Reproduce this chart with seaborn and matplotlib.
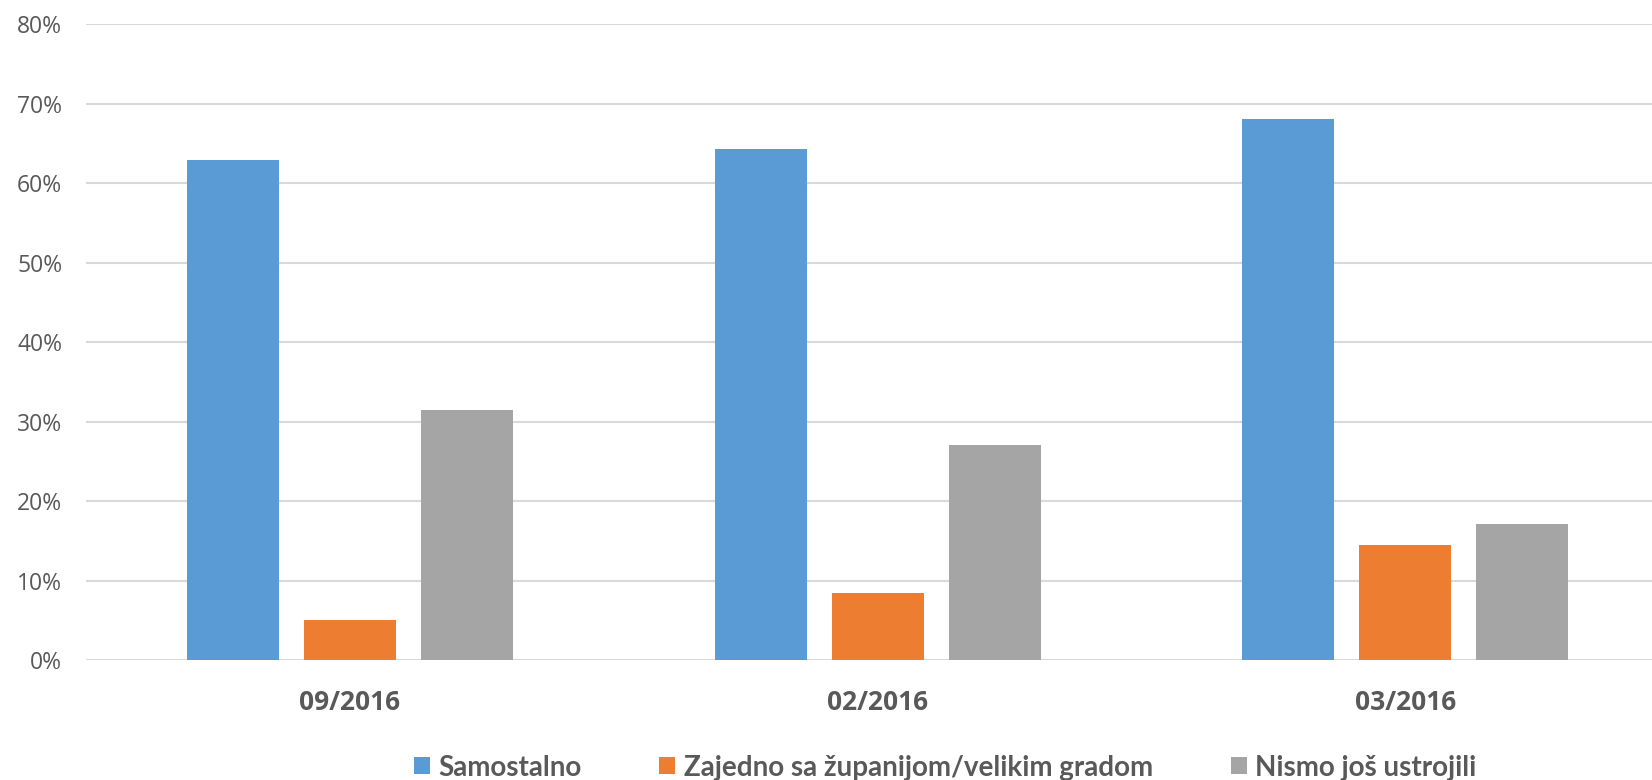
import pandas as pd
import matplotlib.pyplot as plt
import seaborn as sns
from matplotlib.ticker import PercentFormatter

# podaci očitani s grafa
razdoblja = ['09/2016', '02/2016', '03/2016']
samostalno = [0.629, 0.643, 0.68]
zajedno = [0.05, 0.084, 0.145]
nismo = [0.314, 0.27, 0.171]
serije = ['Samostalno', 'Zajedno sa županijom/velikim gradom', 'Nismo još ustrojili']
boje = ['#5B9BD5', '#ED7D31', '#A5A5A5']

df = pd.DataFrame({
    'Razdoblje': razdoblja * 3,
    'Udio': samostalno + zajedno + nismo,
    'Serija': [s for s in serije for _ in razdoblja],
})

sns.set_style('white')
plt.rcParams['font.family'] = ['Open Sans', 'DejaVu Sans']

fig = plt.figure(figsize=(16.52, 7.8), dpi=100)
# desni rub grafa je odrezan kao na originalu
ax = fig.add_axes([0.052, 0.1538, 0.9585, 0.8154])

sns.barplot(data=df, x='Razdoblje', y='Udio', hue='Serija', order=razdoblja,
            hue_order=serije, palette=boje, saturation=1, width=0.665, gap=0.214,
            linewidth=0, ax=ax, zorder=3)

# mreža i osi
ax.set_ylim(0, 0.8)
ax.set_xlim(-0.5, 2.5)
ax.set_yticks([i / 10 for i in range(9)])
ax.yaxis.set_major_formatter(PercentFormatter(1.0, decimals=0))
ax.grid(True, axis='y', color='#d9d9d9', linewidth=1.5, zorder=0)
ax.grid(False, axis='x')
for s in ax.spines.values():
    s.set_visible(False)
ax.tick_params(length=0)
ax.tick_params(axis='y', labelsize=16.5, labelcolor='#595959', pad=17)
ax.tick_params(axis='x', labelsize=19, labelcolor='#595959', pad=21)
for t in ax.get_xticklabels():
    t.set_fontweight('bold')
ax.set_xlabel('')
ax.set_ylabel('')

# legenda ispod grafa
handles, labels = ax.get_legend_handles_labels()
ax.get_legend().remove()
fig.legend(handles, labels, loc='center', bbox_to_anchor=(0.572, 0.016), ncol=3,
           frameon=False, prop={'family': 'Lato', 'weight': 'bold', 'size': 20},
           labelcolor='#595959', handlelength=0.58, handleheight=0.58,
           handletextpad=0.3, columnspacing=2.8)

fig.savefig('out.png', dpi=100)
